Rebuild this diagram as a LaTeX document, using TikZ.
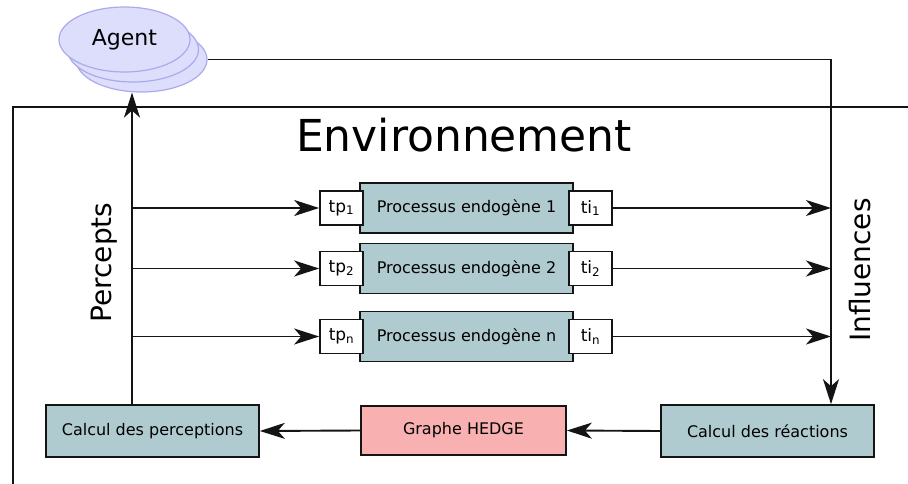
\documentclass[tikz,border=0pt]{standalone}
\usepackage{fontspec}
\setmainfont{DejaVu Sans}
\usetikzlibrary{arrows.meta,shapes.geometric}
\definecolor{boxteal}{RGB}{176,203,208}
\definecolor{boxpink}{RGB}{248,176,176}
\definecolor{agentfill}{RGB}{221,221,252}
\definecolor{agentline}{RGB}{170,170,236}
\definecolor{ink}{RGB}{20,20,20}
\begin{document}
\begin{tikzpicture}[x=1pt,y=-1pt,
  arr/.style={draw=ink, -{Stealth[length=25pt,width=16pt,inset=7pt]}, line width=1.9pt},
  plain/.style={draw=ink, line width=1.9pt},
  agentell/.style={ellipse, draw=agentline, fill=agentfill, line width=1.2pt,
    minimum width=131pt, minimum height=65pt, inner sep=0pt},
  procbox/.style={draw=ink, line width=1.7pt, fill=boxteal, minimum width=213pt,
    minimum height=50pt, inner sep=0pt, font=\fontsize{16}{19}\selectfont},
  portbox/.style={draw=ink, line width=1.7pt, fill=white, minimum width=43pt,
    minimum height=34pt, inner sep=0pt, font=\fontsize{17}{20}\selectfont},
  calcbox/.style={draw=ink, line width=1.7pt, fill=boxteal, minimum width=213pt,
    minimum height=52pt, inner sep=0pt, font=\fontsize{16}{19}\selectfont},
  bigtext/.style={font=\fontsize{44}{52}\selectfont},
  sidetext/.style={font=\fontsize{28}{33}\selectfont, rotate=90}
]
\useasboundingbox (0,0) rectangle (908,484);

% environment frame
\draw[plain] (13,484) -- (13,107) -- (908,107);
\node[bigtext, anchor=base] (env) at (464,152) {Environnement};

% agent
\node[agentell] (agent3) at (141.5,59.5) {};
\node[agentell] (agent2) at (133,49.5) {};
\node[agentell, font=\fontsize{22}{26}\selectfont] (agent) at (124.5,39.5) {Agent};

% endogenous processes
\node[procbox] (p1) at (466.5,208) {Processus endogène 1};
\node[procbox] (p2) at (466.5,268.5) {Processus endogène 2};
\node[procbox] (p3) at (466.5,336.5) {Processus endogène n};
\node[portbox] (tp1) at (341.5,208) {tp\textsubscript{1}};
\node[portbox] (tp2) at (341.5,268.5) {tp\textsubscript{2}};
\node[portbox] (tp3) at (341.5,336.5) {tp\textsubscript{n}};
\node[portbox] (ti1) at (590.5,208) {ti\textsubscript{1}};
\node[portbox] (ti2) at (590.5,268.5) {ti\textsubscript{2}};
\node[portbox] (ti3) at (590.5,336.5) {ti\textsubscript{n}};

% bottom boxes
\node[calcbox] (perc) at (152.5,431) {Calcul des perceptions};
\node[calcbox, fill=boxpink, minimum width=205pt, minimum height=49pt] (hedge) at (463.5,430.5) {Graphe HEDGE};
\node[calcbox] (react) at (767.5,431) {Calcul des réactions};

% side labels
\node[sidetext] (perlab) at (104,262.5) {Percepts};
\node[sidetext] (inflab) at (860,270) {Influences};

% guide coordinates
\coordinate (pl) at (132,0);
\coordinate (il) at (831,0);

% percepts
\draw[arr] (perc.north -| pl) -- (agent3.south -| pl);
\draw[arr] (tp1.west -| pl) -- (tp1.west);
\draw[arr] (tp2.west -| pl) -- (tp2.west);
\draw[arr] (tp3.west -| pl) -- (tp3.west);

% influences
\draw[arr] (agent3.east) -- (agent3.east -| il) -- (react.north -| il);
\draw[arr] (ti1.east) -- (ti1.east -| il);
\draw[arr] (ti2.east) -- (ti2.east -| il);
\draw[arr] (ti3.east) -- (ti3.east -| il);

% bottom chain
\draw[arr] (react.west) -- (hedge.east);
\draw[arr] (hedge.west) -- (perc.east);
\end{tikzpicture}
\end{document}
